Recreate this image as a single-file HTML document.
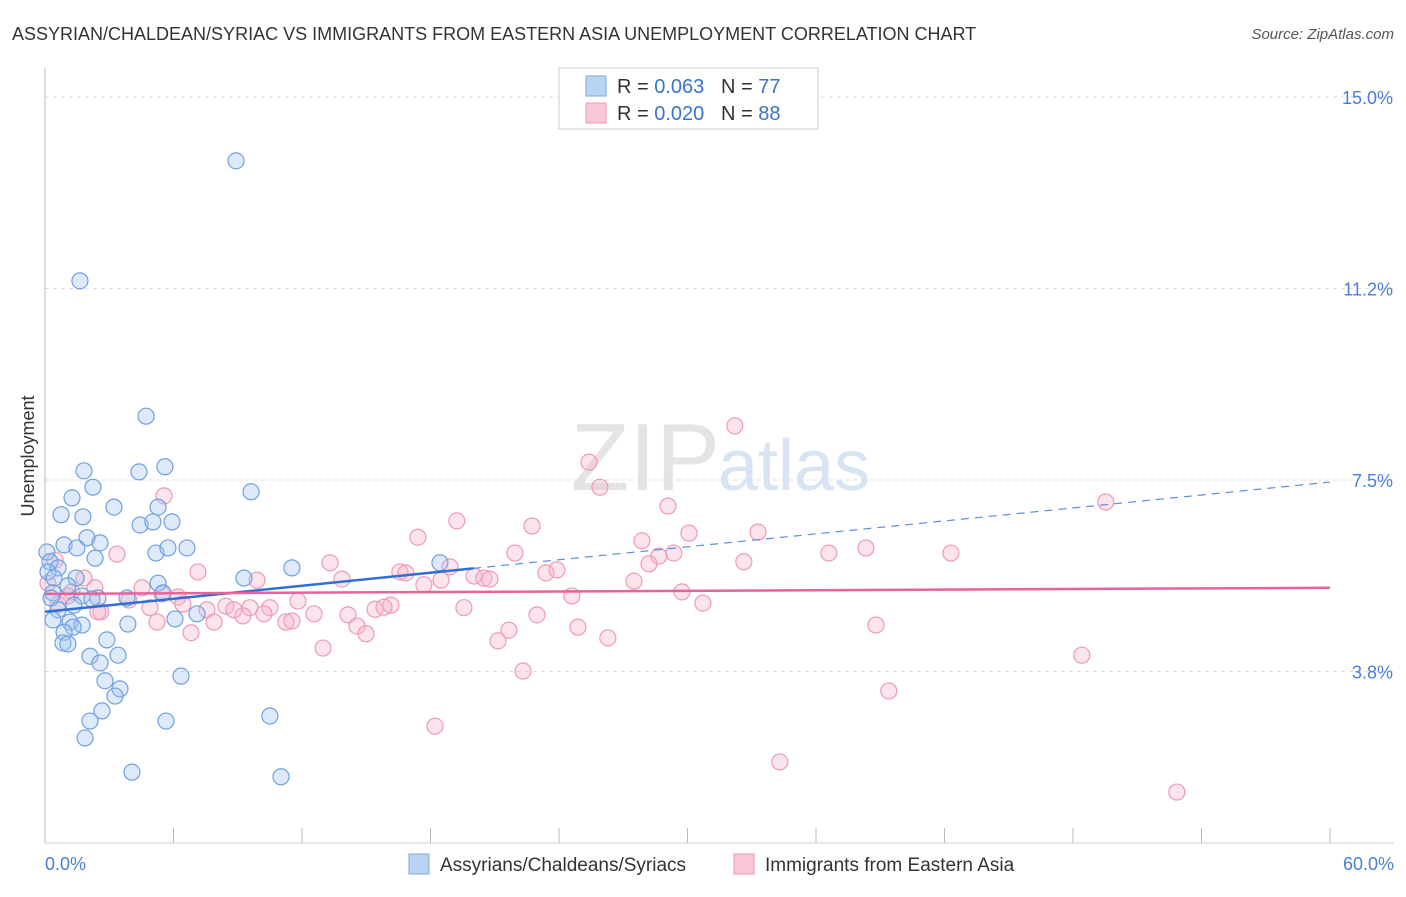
<!DOCTYPE html>
<html><head><meta charset="utf-8"><style>
body{margin:0;background:#fff;font-family:"Liberation Sans",sans-serif;}
svg text{font-family:"Liberation Sans",sans-serif;}
</style></head><body>
<svg id="chart" width="1406" height="892" viewBox="0 0 1406 892">
<text x="12" y="40" font-size="18" fill="#333">ASSYRIAN/CHALDEAN/SYRIAC VS IMMIGRANTS FROM EASTERN ASIA UNEMPLOYMENT CORRELATION CHART</text>
<text x="1394" y="39" font-size="15" fill="#555" text-anchor="end" font-style="italic">Source: ZipAtlas.com</text>
<text x="720" y="490" font-size="96" fill="#e4e4e4" text-anchor="end" font-family="Liberation Serif">ZIP</text>
<text x="718" y="490" font-size="72" fill="#d6e4f4">atlas</text>
<g id="grid"></g>
<g id="axes"></g>
<g id="marks"></g>
<text transform="translate(34,456) rotate(-90)" font-size="18" fill="#333" text-anchor="middle">Unemployment</text>
<text x="45" y="870" font-size="18" fill="#4a7fd4">0.0%</text>
<text x="1394" y="870" font-size="18" fill="#4a7fd4" text-anchor="end">60.0%</text>
<g>
<rect x="559" y="68" width="259" height="61" fill="#fff" stroke="#ccc"/>
<rect x="586" y="76" width="20" height="20" fill="#b9d3f3" stroke="#7aaae0"/>
<text x="617" y="93" font-size="20" fill="#333">R = <tspan fill="#3a74d0">0.063</tspan>&#160;&#160;&#160;N = <tspan fill="#3a74d0">77</tspan></text>
<rect x="586" y="103" width="20" height="20" fill="#f8c8d6" stroke="#ee9ab5"/>
<text x="617" y="120" font-size="20" fill="#333">R = <tspan fill="#3a74d0">0.020</tspan>&#160;&#160;&#160;N = <tspan fill="#3a74d0">88</tspan></text>
</g>
<g>
<rect x="409" y="854" width="20" height="20" fill="#b9d3f3" stroke="#7aaae0"/>
<text x="440" y="871" font-size="19" fill="#333">Assyrians/Chaldeans/Syriacs</text>
<rect x="734" y="854" width="20" height="20" fill="#f8c8d6" stroke="#ee9ab5"/>
<text x="765" y="871" font-size="19" fill="#333">Immigrants from Eastern Asia</text>
</g>
</svg>
<script>
const yTicks=[3.75,7.5,11.25,15];
const yTickLabels=["3.8%","7.5%","11.2%","15.0%"];
const xTicks=[0,6,12,18,24,30,36,42,48,54,60];
const blueX=[8.92,1.63,4.72,1.82,4.39,5.60,2.24,1.26,9.62,0.75,1.77,3.22,5.28,4.44,5.04,5.93,1.96,0.89,1.49,2.57,5.18,5.74,6.63,2.34,0.09,0.23,0.61,0.14,0.42,1.45,11.53,9.29,18.44,5.28,1.07,0.37,0.28,1.73,2.47,3.83,5.51,2.19,1.35,0.61,0.37,1.17,1.73,1.31,3.87,6.07,7.10,0.89,2.89,0.84,1.07,2.10,3.41,2.57,6.35,2.80,3.50,3.27,2.66,2.10,5.65,10.50,1.87,4.06,11.02];
const blueY=[13.75,11.40,8.75,7.68,7.66,7.76,7.36,7.15,7.27,6.82,6.78,6.97,6.97,6.62,6.68,6.68,6.37,6.23,6.17,6.27,6.07,6.17,6.17,5.97,6.09,5.90,5.78,5.70,5.58,5.58,5.78,5.58,5.88,5.48,5.43,5.29,5.19,5.23,5.19,5.19,5.29,5.17,5.05,4.96,4.76,4.72,4.66,4.62,4.68,4.78,4.88,4.52,4.37,4.31,4.29,4.05,4.07,3.92,3.66,3.57,3.41,3.27,2.98,2.78,2.78,2.88,2.45,1.78,1.69];
const pinkX=[32.21,25.40,25.91,5.56,49.53,29.09,19.23,22.74,30.07,17.41,33.29,27.87,29.36,28.66,21.94,28.20,13.31,36.60,38.33,42.30,32.63,3.36,0.47,7.14,0.14,1.82,9.90,13.87,16.57,16.85,18.91,18.49,20.03,20.49,20.77,23.39,23.90,17.69,27.50,24.60,29.74,2.33,4.53,6.21,5.46,1.07,1.26,3.92,0.61,6.44,4.90,2.61,7.56,8.45,8.82,9.57,10.50,11.81,16.15,15.41,15.83,19.56,22.97,30.72,2.47,5.23,7.89,9.24,10.22,11.25,11.53,12.56,14.15,14.57,14.99,6.82,12.98,21.15,21.66,24.88,26.28,38.80,48.41,22.32,39.40,18.21,34.31,52.85];
const pinkY=[8.56,7.85,7.36,7.19,7.07,6.99,6.70,6.60,6.46,6.38,6.48,6.31,6.07,6.01,6.07,5.86,5.88,6.07,6.17,6.07,5.90,6.05,5.93,5.70,5.48,5.58,5.54,5.56,5.70,5.68,5.80,5.54,5.62,5.58,5.56,5.68,5.74,5.45,5.52,5.23,5.31,5.39,5.39,5.21,5.27,5.23,5.31,5.15,5.07,5.07,5.00,4.92,4.96,5.03,4.96,5.00,5.00,5.13,5.05,4.97,5.01,5.00,4.86,5.09,4.92,4.72,4.72,4.84,4.88,4.72,4.74,4.88,4.86,4.64,4.49,4.51,4.21,4.35,4.56,4.62,4.41,4.66,4.07,3.76,3.37,2.68,1.98,1.39];
const blueTrendX=[0,20,60];
const blueTrendY=[4.92,5.77,7.46];
const pinkTrendX=[0,60];
const pinkTrendY=[5.27,5.39];

const NS="http://www.w3.org/2000/svg";
const xs=v=>45+v*(1285/60);
const ys=v=>97+(15-v)*51.07;
function mk(tag,attrs,parent){const e=document.createElementNS(NS,tag);for(const k in attrs)e.setAttribute(k,attrs[k]);parent.appendChild(e);return e;}
const grid=document.getElementById('grid'),axes=document.getElementById('axes'),marks=document.getElementById('marks');
yTicks.forEach((t,i)=>{
  const l=mk('line',{x1:45,x2:1394,y1:ys(t),y2:ys(t),stroke:'#ddd','stroke-dasharray':'4,4'},grid);
  
  
  const tx=mk('text',{x:1393,y:ys(t)+7,'font-size':18,fill:'#4a7fd4','text-anchor':'end'},axes);
  tx.textContent=yTickLabels[i];
  
  
});
const ax=mk('line',{x1:45,x2:45,y1:68,y2:843,stroke:'#bbb'},axes);


const bx=mk('line',{x1:45,x2:1394,y1:843,y2:843,stroke:'#ccc'},axes);


xTicks.forEach(t=>{
  const l=mk('line',{x1:xs(t),x2:xs(t),y1:828,y2:843,stroke:'#bbb'},axes);
  
  
});
function dots(X,Y,fill,stroke,name){
  X.forEach((x,i)=>{
    const c=mk('circle',{cx:xs(x),cy:ys(Y[i]),r:8,fill:fill,stroke:stroke,'stroke-width':1.2},marks);
    
    
  });
}
dots(pinkX,pinkY,'rgba(246,178,200,0.35)','#ee9ab5','pink-point');
dots(blueX,blueY,'rgba(160,195,240,0.35)','#6fa0e0','blue-point');
const bs=mk('line',{x1:xs(blueTrendX[0]),y1:ys(blueTrendY[0]),x2:xs(blueTrendX[1]),y2:ys(blueTrendY[1]),stroke:'#2f6fd6','stroke-width':2.5},marks);


const bd=mk('line',{x1:xs(blueTrendX[1]),y1:ys(blueTrendY[1]),x2:xs(blueTrendX[2]),y2:ys(blueTrendY[2]),stroke:'#5a8ee0','stroke-width':1.2,'stroke-dasharray':'8,6'},marks);


const pt=mk('line',{x1:xs(pinkTrendX[0]),y1:ys(pinkTrendY[0]),x2:xs(pinkTrendX[1]),y2:ys(pinkTrendY[1]),stroke:'#e8639a','stroke-width':2.5},marks);


</script>
</body></html>
